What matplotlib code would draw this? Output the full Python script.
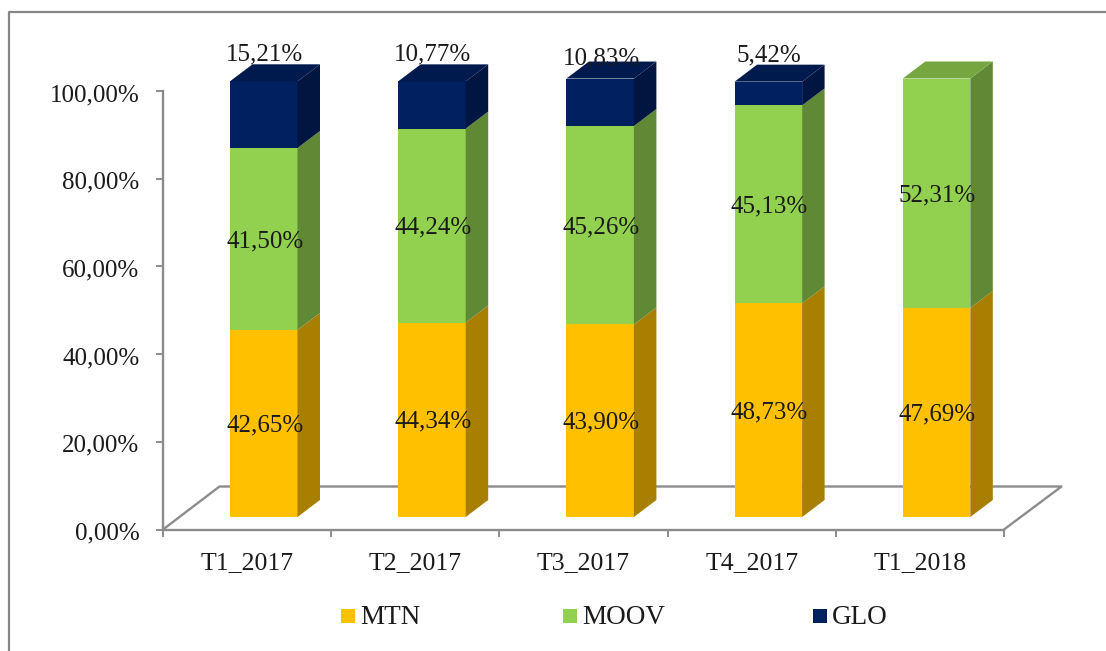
import matplotlib
matplotlib.use('Agg')
import matplotlib.pyplot as plt
from matplotlib.patches import Polygon, Rectangle
from matplotlib.lines import Line2D
from matplotlib.transforms import ScaledTranslation

categories = ['T1_2017', 'T2_2017', 'T3_2017', 'T4_2017', 'T1_2018']
mtn = [42.65, 44.34, 43.90, 48.73, 47.69]
moov = [41.50, 44.24, 45.26, 45.13, 52.31]
glo = [15.21, 10.77, 10.83, 5.42, 0]

W, H = 1106, 651
L, R, T, B = 163, 1004, 91, 529.5
px_x = 5 / (R - L)
px_y = 100 / (B - T)

# pixels between the top of the front face and the GLO label
glo_label_gap = [26.5, 27, 20.5, 26.5, 0]


def dx(p):
    return p * px_x


def dy(p):
    return p * px_y


def darker(rgb, f):
    return tuple(c * f for c in rgb)


plt.rcParams['font.family'] = ['Liberation Serif', 'DejaVu Serif']
text_col = '#1a1a1a'

fig = plt.figure(figsize=(W / 100, H / 100), dpi=100)
# only the top and left edges of the outer frame are in the picture
frame_x = [8.5 / W, 8.5 / W, 1]
frame_y = [0, 1 - 12 / H, 1 - 12 / H]
fig.add_artist(Line2D(frame_x, frame_y, transform=fig.transFigure, color='#868686', lw=1.6))

ax = fig.add_axes([L / W, 1 - B / H, (R - L) / W, (B - T) / H])
ax.set_xlim(0, 5)
ax.set_ylim(0, 100)
ax.patch.set_alpha(0)

for s in ['top', 'right', 'left', 'bottom']:
    ax.spines[s].set_visible(False)

grey = '#8c8c8c'
# floor of the 3d box
floor_x = [5, 5 + dx(57.5), dx(56.5), 0]
floor_y = [0, dy(43), dy(43), 0]
ax.plot(floor_x, floor_y, color=grey, lw=1.7, clip_on=False, zorder=1)
ax.plot([0, 0], [0, 100], color=grey, lw=1.7, clip_on=False, zorder=1)
ax.plot([0, 5], [0, 0], color=grey, lw=1.7, clip_on=False, zorder=1)

ax.set_xticks(range(6))
ax.set_xticklabels([])
ax.set_yticks([0, 20, 40, 60, 80, 100])
ax.set_yticklabels(['0,00%', '20,00%', '40,00%', '60,00%', '80,00%', '100,00%'], fontsize=18, color=text_col)
ax.tick_params(axis='both', color=grey, width=1.4, length=5)
ax.tick_params(axis='y', pad=12)
shift = ScaledTranslation(0, -1.5 / 100, fig.dpi_scale_trans)
for lab in ax.get_yticklabels():
    lab.set_transform(lab.get_transform() + shift)
for i, c in enumerate(categories):
    ax.text(i + 0.5, -dy(33.5), c, ha='center', va='center', fontsize=18.5, color=text_col, clip_on=False)

series = [('MTN', mtn, (1.0, 0.753, 0.0)),
          ('MOOV', moov, (0.573, 0.816, 0.314)),
          ('GLO', glo, (0.0, 0.125, 0.376))]

bar_w = dx(67.5)
depth_x = dx(22.5)
depth_y = dy(17)
base = dy(12.5)

for i in range(len(categories)):
    x0 = i + dx(67)
    bottom = base
    for name, vals, col in series:
        v = vals[i]
        if v == 0:
            continue
        top = bottom + v
        ax.bar(x0, v, bar_w, bottom=bottom, align='edge', color=col, lw=0, zorder=3, clip_on=False)
        ax.add_patch(Polygon([(x0 + bar_w, bottom), (x0 + bar_w + depth_x, bottom + depth_y),
                              (x0 + bar_w + depth_x, top + depth_y), (x0 + bar_w, top)],
                             color=darker(col, 0.66), lw=0, zorder=3, clip_on=False))
        bottom = top
    # top face takes the colour of the last non empty series
    last = [s for s in series if s[1][i] > 0][-1][2]
    ax.add_patch(Polygon([(x0, bottom), (x0 + bar_w, bottom), (x0 + bar_w + depth_x, bottom + depth_y),
                          (x0 + depth_x, bottom + depth_y)],
                         color=darker(last, 0.8), lw=0, zorder=3, clip_on=False))
    # labels
    b = base
    for name, vals, col in series:
        v = vals[i]
        if v == 0:
            continue
        if name == 'GLO':
            ypos = b + v + dy(glo_label_gap[i])
        else:
            ypos = b + v / 2 - dy(2)
        ax.text(x0 + bar_w / 2 + dx(1), ypos, f'{v:.2f}%'.replace('.', ','), ha='center', va='center',
                fontsize=18, color=text_col, zorder=5, clip_on=False)
        b += v

# legend
leg_x = [341, 563, 813]
for (name, vals, col), lx in zip(series, leg_x):
    fig.add_artist(Rectangle((lx / W, 1 - 623 / H), 14 / W, 14 / H, transform=fig.transFigure,
                             facecolor=col, edgecolor='none'))
    fig.text((lx + 19) / W, 1 - 617 / H, name, ha='left', va='center', fontsize=19.5, color=text_col)

fig.savefig('out.png', dpi=100)
